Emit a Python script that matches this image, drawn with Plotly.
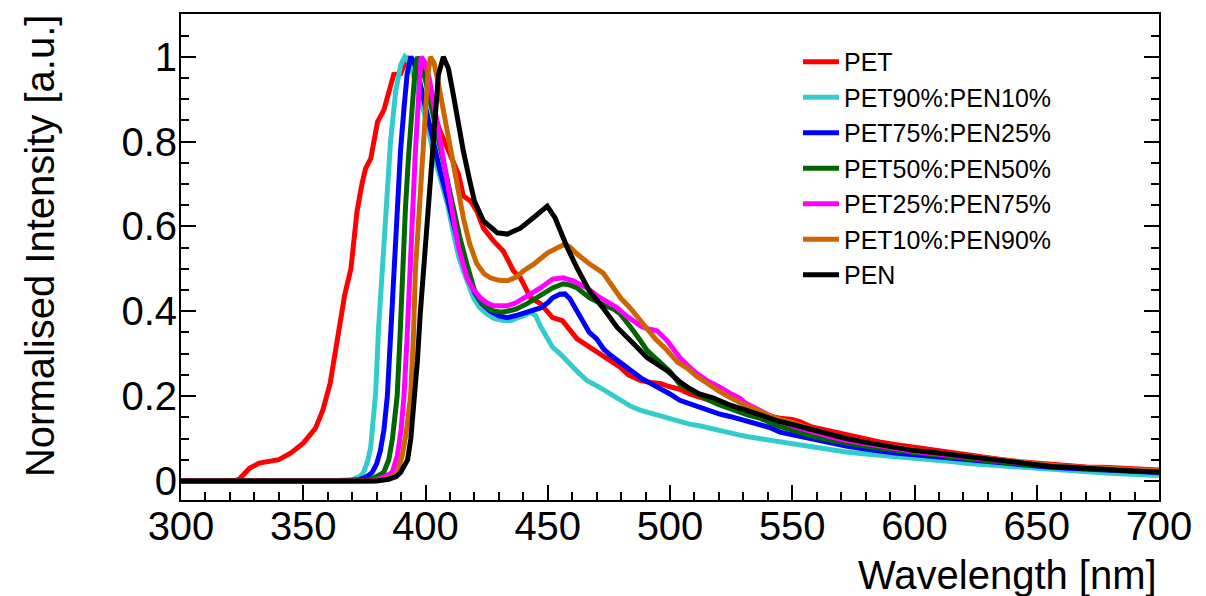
import plotly.graph_objects as go

# ---------------- data ----------------
series_names = ["PET", "PET90%:PEN10%", "PET75%:PEN25%", "PET50%:PEN50%",
                "PET25%:PEN75%", "PET10%:PEN90%", "PEN"]
series_colors = ["#ff0000", "#33cccc", "#0000ff", "#006600",
                 "#ff00ff", "#cc6600", "#000000"]

pet_x = [300, 322, 324, 328, 332, 336, 340, 345, 350, 355, 358, 361, 363, 365, 367, 369.5, 372, 374,
         375.5, 377.6, 380.4, 383, 385, 387, 389.8, 392.7, 395, 397, 398.8, 400.8, 402.9, 406, 409,
         411.4, 413.5, 415.5, 418.4, 421, 423.7, 427.8, 431.8, 436, 438.8, 443, 447, 452, 456, 462,
         467, 471.4, 475, 479.6, 483, 487.8, 492, 496, 500, 504, 508, 512, 516, 520, 524, 528.6, 532,
         536.7, 540, 545, 550, 553, 558, 565, 572, 579, 585.7, 592, 599, 606, 615, 622, 629, 636, 643,
         650, 656, 663, 670, 677, 684, 692, 700]
pet_y = [0, 0, 0.005, 0.03, 0.042, 0.045, 0.05, 0.066, 0.089, 0.124, 0.167, 0.23, 0.3, 0.38, 0.44, 0.5,
         0.636, 0.7, 0.737, 0.76, 0.847, 0.875, 0.918, 0.958, 0.96, 1.0, 0.976, 0.965, 0.976, 0.948,
         0.878, 0.824, 0.784, 0.753, 0.723, 0.672, 0.66, 0.636, 0.596, 0.566, 0.542, 0.495, 0.479,
         0.432, 0.418, 0.385, 0.378, 0.335, 0.315, 0.3, 0.285, 0.268, 0.25, 0.237, 0.232, 0.23, 0.222,
         0.216, 0.205, 0.197, 0.19, 0.183, 0.176, 0.167, 0.163, 0.16, 0.154, 0.148, 0.145, 0.14, 0.127,
         0.118, 0.108, 0.1, 0.092, 0.086, 0.08, 0.076, 0.066, 0.06, 0.054, 0.05, 0.045, 0.042, 0.038,
         0.036, 0.033, 0.032, 0.03, 0.028, 0.026]

p90_x = [300, 360, 370, 373, 374.7, 376.5, 377.6, 378.6, 379.6, 380.8, 382.4, 383.7, 385.7, 387.8,
         389.8, 391.5, 393, 395, 398, 400.8, 403, 406, 409, 411.4, 413.5, 415.5, 419.6, 422, 425, 428,
         431.8, 435, 438.8, 441, 443, 445, 447, 450, 452, 455, 458, 460.4, 463, 466, 471.4, 475.5,
         479.6, 484, 487.8, 492, 496, 500, 504, 508, 512, 516, 520, 524.5, 528.6, 532, 536.7, 540, 545,
         550, 558, 565, 572, 579, 585.7, 592, 599, 606, 615, 622, 629, 636, 643, 650, 656, 663, 670,
         677, 684, 692, 700]
p90_y = [0, 0, 0.003, 0.01, 0.02, 0.05, 0.08, 0.14, 0.207, 0.36, 0.51, 0.643, 0.8, 0.918, 0.98, 1.0,
         0.99, 0.958, 0.9, 0.84, 0.777, 0.715, 0.652, 0.585, 0.53, 0.495, 0.432, 0.41, 0.394, 0.383,
         0.378, 0.378, 0.385, 0.392, 0.397, 0.39, 0.365, 0.338, 0.315, 0.3, 0.284, 0.268, 0.253, 0.237,
         0.22, 0.205, 0.19, 0.176, 0.167, 0.16, 0.155, 0.148, 0.14, 0.134, 0.13, 0.124, 0.118, 0.113,
         0.108, 0.104, 0.1, 0.096, 0.09, 0.086, 0.08, 0.074, 0.068, 0.064, 0.061, 0.058, 0.055, 0.052,
         0.046, 0.041, 0.038, 0.035, 0.031, 0.028, 0.026, 0.023, 0.021, 0.019, 0.017, 0.015, 0.013]

p75_x = [300, 365, 373, 376, 378.2, 380, 381.5, 383, 384.4, 385.5, 386.5, 387.3, 388.4, 389.8, 391.2,
         392.5, 394, 395.5, 397.5, 400, 403, 406, 409, 412, 414.5, 417, 420, 423, 426.5, 430, 433.5,
         437, 441.6, 445, 447, 450, 452, 455, 457, 459, 461, 464, 467, 470, 473, 476, 480, 484, 488,
         492, 496, 500, 504, 508, 512, 516, 520, 524.5, 528, 532.6, 536.7, 540.8, 545, 549, 553, 558,
         565, 572, 579, 585.7, 592, 599, 606, 615, 622, 629, 636, 643, 650, 656, 663, 670, 677, 684,
         692, 700]
p75_y = [0, 0, 0.003, 0.01, 0.02, 0.04, 0.07, 0.12, 0.2, 0.33, 0.43, 0.5, 0.643, 0.78, 0.878, 0.96,
         1.0, 0.985, 0.945, 0.88, 0.8, 0.73, 0.665, 0.595, 0.535, 0.49, 0.445, 0.418, 0.4, 0.389, 0.385,
         0.39, 0.397, 0.403, 0.408, 0.42, 0.432, 0.44, 0.441, 0.43, 0.41, 0.375, 0.35, 0.335, 0.31,
         0.295, 0.278, 0.258, 0.243, 0.23, 0.218, 0.205, 0.19, 0.182, 0.172, 0.165, 0.158, 0.152, 0.146,
         0.14, 0.134, 0.126, 0.115, 0.11, 0.105, 0.098, 0.09, 0.082, 0.076, 0.07, 0.066, 0.062, 0.058,
         0.053, 0.049, 0.045, 0.041, 0.038, 0.035, 0.032, 0.03, 0.028, 0.026, 0.024, 0.022, 0.02]

p50_x = [300, 372, 377, 380, 382.9, 385, 386.5, 388.4, 389.5, 390.6, 391.8, 393, 394.5, 395.6, 396.7,
         398, 400, 402.5, 405, 408, 411, 414, 417, 420, 422.4, 425, 427.8, 431, 433.5, 437, 441.6,
         445, 448, 452, 456.3, 459, 462, 467, 471, 474, 477, 479.6, 482, 485, 488, 490.6, 493, 496,
         500, 504, 508, 512, 516, 520, 524.5, 528.6, 532, 536.7, 540, 545, 550, 558, 565, 572, 579,
         585.7, 592, 599, 606, 615, 622, 629, 636, 643, 650, 656, 663, 670, 677, 684, 692, 700]
p50_y = [0, 0, 0.003, 0.01, 0.02, 0.05, 0.1, 0.2, 0.33, 0.5, 0.643, 0.76, 0.878, 0.96, 1.0, 0.985,
         0.945, 0.88, 0.81, 0.73, 0.655, 0.575, 0.51, 0.45, 0.425, 0.41, 0.401, 0.398, 0.4, 0.405,
         0.418, 0.43, 0.441, 0.455, 0.465, 0.462, 0.455, 0.432, 0.42, 0.413, 0.405, 0.394, 0.378,
         0.354, 0.33, 0.308, 0.295, 0.28, 0.258, 0.228, 0.215, 0.203, 0.19, 0.18, 0.17, 0.162, 0.155,
         0.148, 0.14, 0.128, 0.12, 0.106, 0.097, 0.089, 0.083, 0.077, 0.072, 0.067, 0.063, 0.057,
         0.052, 0.048, 0.044, 0.04, 0.037, 0.034, 0.032, 0.029, 0.027, 0.025, 0.023, 0.021]

p25_x = [300, 375, 380, 383.5, 386.4, 388.5, 390, 391.2, 392.4, 393.6, 394.6, 395.8, 396.9, 397.6,
         398.2, 399.5, 401.5, 404, 406, 408.2, 411, 413.5, 417, 419.5, 422.4, 425, 427.8, 433.5, 437,
         440, 444, 447, 452, 456.3, 460.4, 463, 466, 471.4, 475, 478.4, 482, 485, 488, 490.6, 494.7,
         498.8, 501, 504, 508, 511, 515, 517.6, 520, 524.5, 528.6, 531, 536.7, 540, 545, 550, 558, 565,
         572, 579, 585.7, 592, 599, 606, 615, 622, 629, 636, 643, 650, 656, 663, 670, 677, 684, 692,
         700]
p25_y = [0, 0, 0.003, 0.01, 0.02, 0.06, 0.12, 0.2, 0.33, 0.5, 0.643, 0.77, 0.878, 0.96, 1.0, 0.99,
         0.95, 0.87, 0.8, 0.723, 0.625, 0.55, 0.479, 0.452, 0.432, 0.42, 0.413, 0.413, 0.42, 0.43,
         0.443, 0.455, 0.476, 0.479, 0.472, 0.464, 0.455, 0.432, 0.42, 0.408, 0.39, 0.378, 0.365,
         0.359, 0.354, 0.331, 0.315, 0.291, 0.268, 0.253, 0.237, 0.23, 0.222, 0.207, 0.195, 0.183,
         0.165, 0.155, 0.142, 0.13, 0.116, 0.105, 0.096, 0.089, 0.082, 0.076, 0.07, 0.066, 0.06,
         0.055, 0.05, 0.046, 0.042, 0.039, 0.036, 0.033, 0.031, 0.029, 0.027, 0.025, 0.023]

p10_x = [300, 378, 383, 386, 388.4, 390.5, 392, 393.9, 395, 395.9, 397.5, 398.8, 400, 401, 402, 403.5,
         405.5, 408, 410.5, 412.5, 415.5, 418, 421, 424, 426.5, 430, 433.5, 437, 440, 444, 447, 450,
         454, 457, 459, 462, 467, 472.7, 474.5, 476.7, 480, 483.7, 487.8, 490.6, 494, 498.8, 503, 507,
         511, 514, 517.6, 520, 524.5, 528.6, 531, 536.7, 540, 545, 550, 558, 565, 572, 579, 585.7, 592,
         599, 606, 615, 622, 629, 636, 643, 650, 656, 663, 670, 677, 684, 692, 700]
p10_y = [0, 0, 0.003, 0.01, 0.02, 0.06, 0.11, 0.2, 0.33, 0.5, 0.643, 0.77, 0.878, 0.96, 1.0, 0.985,
         0.93, 0.85, 0.77, 0.715, 0.62, 0.56, 0.512, 0.488, 0.479, 0.473, 0.472, 0.48, 0.495, 0.51,
         0.526, 0.538, 0.55, 0.558, 0.552, 0.535, 0.512, 0.49, 0.475, 0.455, 0.43, 0.408, 0.38, 0.362,
         0.335, 0.308, 0.28, 0.266, 0.246, 0.235, 0.22, 0.212, 0.197, 0.185, 0.178, 0.165, 0.155,
         0.145, 0.138, 0.122, 0.11, 0.1, 0.092, 0.085, 0.079, 0.073, 0.068, 0.062, 0.057, 0.052,
         0.048, 0.043, 0.04, 0.037, 0.034, 0.032, 0.03, 0.028, 0.026, 0.024]

pen_x = [300, 380, 385, 388, 389.8, 391.5, 392.7, 394, 395, 396.7, 397.8, 399.3, 401.2, 402.8, 404,
         405.3, 407.3, 409.4, 411.4, 413.5, 415.5, 418, 420, 423.7, 429.4, 433.5, 438.8, 444, 449.8,
         453, 458, 462, 467, 472.6, 478.4, 485, 490.6, 498.8, 504, 508, 512, 517.6, 525, 531, 536.7,
         545, 550, 558, 565, 572, 579, 585.7, 592, 599, 606, 615, 622, 629, 636, 643, 650, 656, 663,
         670, 677, 684, 692, 700]
pen_y = [0, 0, 0.004, 0.01, 0.02, 0.035, 0.05, 0.1, 0.167, 0.284, 0.39, 0.5, 0.643, 0.76, 0.878, 0.958,
         1.0, 0.972, 0.91, 0.84, 0.777, 0.71, 0.66, 0.613, 0.585, 0.582, 0.596, 0.62, 0.648, 0.62, 0.55,
         0.502, 0.448, 0.408, 0.362, 0.324, 0.291, 0.26, 0.234, 0.218, 0.205, 0.196, 0.178, 0.167,
         0.155, 0.14, 0.133, 0.12, 0.11, 0.1, 0.092, 0.085, 0.079, 0.072, 0.068, 0.062, 0.056, 0.05,
         0.046, 0.042, 0.038, 0.034, 0.032, 0.029, 0.027, 0.025, 0.023, 0.021]

series_x = [pet_x, p90_x, p75_x, p50_x, p25_x, p10_x, pen_x]
series_y = [pet_y, p90_y, p75_y, p50_y, p25_y, p10_y, pen_y]

x_ticks = [300, 350, 400, 450, 500, 550, 600, 650, 700]
y_ticks = [0, 0.2, 0.4, 0.6, 0.8, 1]
y_ticklabels = ["0", "0.2", "0.4", "0.6", "0.8", "1"]
x_title = "Wavelength [nm]"
y_title = "Normalised Intensity [a.u.]"

# ---------------- figure ----------------
FONT = "Liberation Sans, Arial, Helvetica, sans-serif"
fig = go.Figure()
for name, color, xs, ys in zip(series_names, series_colors, series_x, series_y):
    fig.add_trace(go.Scatter(x=xs, y=ys, mode="lines", name=name,
                             line=dict(color=color, width=5)))

W, H = 1206, 596
ml, mr, mt, mb = 181, 47, 12, 96
PW, PH = W - ml - mr, H - mt - mb

fig.update_layout(
    width=W, height=H,
    margin=dict(l=ml, r=mr, t=mt, b=mb),
    paper_bgcolor="white", plot_bgcolor="white",
    font=dict(family=FONT, color="black"),
    showlegend=True,
    legend=dict(x=(798 - ml) / PW, y=(H - mb - 37) / PH,
                xanchor="left", yanchor="top", itemwidth=36,
                font=dict(size=25, family=FONT, color="black"),
                bgcolor="rgba(255,255,255,0)", borderwidth=0),
    xaxis=dict(range=[300, 700], tickmode="array", tickvals=x_ticks,
               ticks="inside", ticklen=15, tickwidth=2, tickcolor="black",
               minor=dict(dtick=10, ticks="inside", ticklen=8, tickwidth=2, tickcolor="black"),
               showline=True, linewidth=2, linecolor="black", mirror=True,
               showgrid=False, zeroline=False, ticklabelstandoff=-10,
               tickfont=dict(size=40, family=FONT, color="black")),
    yaxis=dict(range=[-0.045, 1.101], tickmode="array", tickvals=y_ticks, ticktext=y_ticklabels,
               ticks="inside", ticklen=15, tickwidth=2, tickcolor="black",
               minor=dict(dtick=0.05, tick0=0, ticks="inside", ticklen=8, tickwidth=2, tickcolor="black"),
               showline=True, linewidth=2, linecolor="black", mirror="ticks",
               showgrid=False, zeroline=False, ticklabelstandoff=-6,
               tickfont=dict(size=40, family=FONT, color="black")),
    annotations=[
        dict(text=x_title, xref="paper", yref="paper", x=1.0, xanchor="right",
             y=-(575 - (H - mb)) / PH, yanchor="middle", showarrow=False,
             font=dict(size=40, family=FONT, color="black")),
        dict(text=y_title, xref="paper", yref="paper", x=(40 - ml) / PW, xanchor="center",
             y=((H - mb) - 245) / PH, yanchor="middle", textangle=-90, showarrow=False,
             font=dict(size=40, family=FONT, color="black")),
    ],
)

fig.write_html("out.html", config={"displayModeBar": False},
               post_script="document.body.style.margin='0';document.body.style.padding='0';"
                           "document.body.style.overflow='hidden';")
